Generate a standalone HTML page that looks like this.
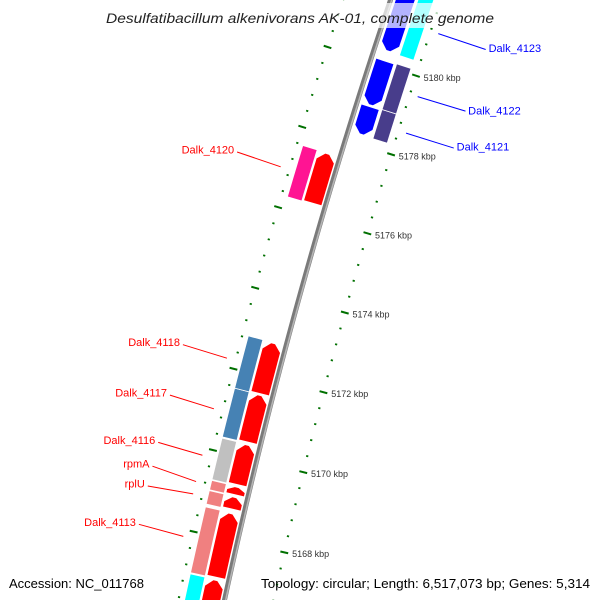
<!DOCTYPE html>
<html><head><meta charset="utf-8"><style>
html,body{margin:0;padding:0;background:#fff;width:600px;height:600px;overflow:hidden;}
svg{display:block;font-family:"Liberation Sans",sans-serif;}
</style></head><body>
<svg id="map" width="600" height="600" viewBox="0 0 600 600" xmlns="http://www.w3.org/2000/svg">
<rect x="0" y="0" width="600" height="600" fill="#fff"/>
<g id="g-ticks"></g>
<g id="g-backbone"></g>
<g id="g-genes"></g>
<g id="g-labels"></g>
<rect x="0" y="3" width="600" height="25" fill="#fff" fill-opacity="0.7"/>
<text x="300" y="23" text-anchor="middle" font-style="italic" font-size="14" fill="#222" textLength="388" lengthAdjust="spacingAndGlyphs">Desulfatibacillum alkenivorans AK-01, complete genome</text>
<text x="9" y="588" font-size="13" fill="#000" textLength="135" lengthAdjust="spacingAndGlyphs">Accession: NC_011768</text>
<text x="261" y="588" font-size="13" fill="#000" textLength="329" lengthAdjust="spacingAndGlyphs">Topology: circular; Length: 6,517,073 bp; Genes: 5,314</text>
</svg>
<script>
const geneNames=['Dalk_4112','Dalk_4113','rplU','rpmA','Dalk_4116','Dalk_4117','Dalk_4118','Dalk_4120','Dalk_4121','Dalk_4122','Dalk_4123'];
const geneStart=[5164.5,5167.03,5168.71,5169.06,5169.31,5170.36,5171.56,5176.30,5178.23,5178.97,5180.34];
const geneEnd=[5167.0,5168.64,5169.04,5169.29,5170.33,5171.56,5172.85,5177.58,5178.97,5180.13,5181.94];
const geneStrand=[1,1,1,1,1,1,1,1,-1,-1,-1];
const geneCogColor=['#00ffff','#f08080','#f08080','#f08080','#c0c0c0','#4682b4','#4682b4','#ff1493','#483d8b','#483d8b','#00ffff'];
const labelP=[null,5167.88,5168.81,5169.29,5169.87,5171.02,5172.25,5176.98,5178.60,5179.53,5181.14];
const tickStart=5164, tickEnd=5182.4, tickStep=0.4;
const tickLabelValues=[5168,5170,5172,5174,5176,5178,5180];

const NS='http://www.w3.org/2000/svg';
const Cx=5691.5, Cy=1789.8, A0=192.89, K=0.4258, P0=5168;
function ang(p){return (A0+(p-P0)*K)*Math.PI/180;}
function pt(p,r){const a=ang(p);return [Cx+r*Math.cos(a),Cy+r*Math.sin(a)];}
function f(v){return v.toFixed(2);}
function arcPts(p1,p2,r){const n=Math.max(2,Math.ceil(Math.abs(p2-p1)/0.1));const out=[];for(let i=0;i<=n;i++){out.push(pt(p1+(p2-p1)*i/n,r));}return out;}
function poly(pts){return pts.map(q=>f(q[0])+','+f(q[1])).join(' ');}
function mk(tag,attrs,parent){const e=document.createElementNS(NS,tag);for(const k in attrs)e.setAttribute(k,attrs[k]);parent.appendChild(e);return e;}

const gb=document.getElementById('g-backbone');
const bb=mk('polyline',{points:poly(arcPts(5160,5186,5595)),fill:'none',stroke:'#7a7a7a','stroke-width':5},gb);


const bb2=mk('polyline',{points:poly(arcPts(5160,5186,5593.8)),fill:'none',stroke:'#b5b5b5','stroke-width':1.6},gb);



const gt=document.getElementById('g-ticks');
const nT=Math.round((tickEnd-tickStart)/tickStep);
for(let i=0;i<=nT;i++){
  const p=tickStart+i*tickStep;
  const major=(i%5===0);
  [[5547,major?4:1.1],[5640,major?4:1.1]].forEach(([rc,h])=>{
    const a=pt(p,rc-h),b=pt(p,rc+h);
    const ln=mk('line',{x1:f(a[0]),y1:f(a[1]),x2:f(b[0]),y2:f(b[1]),stroke:'#007000','stroke-width':major?2:1.8},gt);
    
    
  });
}
tickLabelValues.forEach(v=>{
  const q=pt(v,5539);
  const t=mk('text',{x:f(q[0]),y:f(q[1]+3),'font-size':'9',fill:'#333'},gt);
  t.textContent=v+' kbp';
  
  
});

const gg=document.getElementById('g-genes');
const H=0.2, GAP=0.035;
for(let i=0;i<geneNames.length;i++){
  const s=geneStart[i], e=geneEnd[i], st=geneStrand[i];
  const cr1=st>0?5619:5554, cr2=st>0?5634:5569;
  const cog=arcPts(s,e,cr1).concat(arcPts(e,s,cr2));
  const cb=mk('polygon',{points:poly(cog),fill:geneCogColor[i],stroke:'#fff','stroke-width':0.8},gg);
  
  
  const r1=st>0?5599:5572, r2=st>0?5617:5590, rm=(r1+r2)/2;
  let pts;
  const hh=Math.min(H,(e-s)*0.5);
  if(st>0){
    const a=s+GAP, b=e;
    pts=arcPts(a,b-hh,r1).concat([pt(b-0.03,rm-2),pt(b-0.03,rm+2)]).concat(arcPts(b-hh,a,r2));
  }else{
    const a=s, b=e-GAP;
    pts=arcPts(b,a+hh,r1).concat([pt(a+0.03,rm-2),pt(a+0.03,rm+2)]).concat(arcPts(a+hh,b,r2));
  }
  const ar=mk('polygon',{points:poly(pts),fill:st>0?'#ff0000':'#0000ff'},gg);
  
  
}

const gl=document.getElementById('g-labels');
for(let i=0;i<geneNames.length;i++){
  if(labelP[i]===null)continue;
  const st=geneStrand[i], mid=(geneStart[i]+geneEnd[i])/2, col=st>0?'#ff0000':'#0000ff';
  const a=st>0?pt(labelP[i],5695):pt(labelP[i],5539);
  const b=st>0?pt(mid,5649):pt(mid,5489);
  const ln=mk('line',{x1:f(a[0]),y1:f(a[1]),x2:f(b[0]),y2:f(b[1]),stroke:col,'stroke-width':1},gl);
  
  
  const tp=st>0?pt(labelP[i],5697):pt(labelP[i],5487);
  const t=mk('text',{x:f(tp[0]+(st>0?-1:1)),y:f(tp[1]+2),'font-size':'11',fill:col,'text-anchor':st>0?'end':'start'},gl);
  t.textContent=geneNames[i];
  
  
}
</script>
</body></html>
